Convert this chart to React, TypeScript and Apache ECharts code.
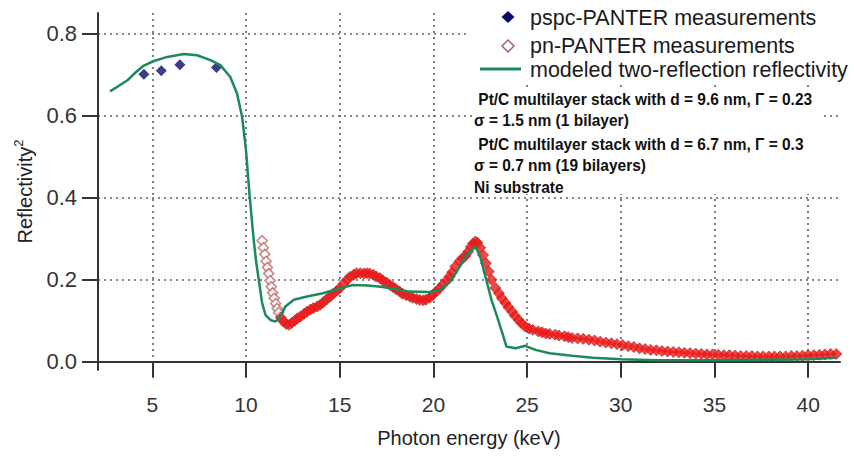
import React, { useEffect, useRef } from "react";
import * as echarts from "echarts";

// ---- data ----
const xTickValues = [5, 10, 15, 20, 25, 30, 35, 40];
const yTickValues = [0, 0.2, 0.4, 0.6, 0.8];

const pspcEnergy = [4.55, 5.48, 6.47, 8.42];
const pspcReflectivity = [0.701, 0.709, 0.724, 0.717];

const pnOpenEnergy = [10.86, 10.93, 11.0, 11.07, 11.14, 11.21, 11.28, 11.35, 11.42, 11.5, 11.58, 11.66, 11.74];
const pnOpenReflectivity = [0.295, 0.278, 0.262, 0.245, 0.23, 0.215, 0.198, 0.183, 0.168, 0.155, 0.142, 0.13, 0.12];

const pnEnergy = [
  11.85, 12.0, 12.15, 12.3, 12.45, 12.6, 12.75, 12.9, 13.1, 13.25, 13.43, 13.6, 13.8, 13.96, 14.15, 14.3, 14.5, 14.65, 14.85,
  15.0, 15.2, 15.4, 15.55, 15.75, 15.9, 16.1, 16.3, 16.45, 16.6, 16.8, 16.95, 17.15, 17.3, 17.5, 17.68, 17.85, 18.0, 18.2,
  18.35, 18.55, 18.74, 18.9, 19.1, 19.27, 19.45, 19.6, 19.8, 19.97, 20.15, 20.33, 20.5, 20.7, 20.87, 21.0, 21.17, 21.4,
  21.55, 21.7, 21.85, 22.0, 22.12, 22.24, 22.35, 22.5, 22.65, 22.8, 22.95, 23.1, 23.3, 23.5, 23.65, 23.85, 24.0, 24.2,
  24.35, 24.55, 24.7, 24.9, 25.1, 25.3, 25.6, 25.8, 26.0, 26.2, 26.5, 26.7, 27.0, 27.2, 27.4, 27.7, 28.0, 28.3, 28.6, 28.9,
  29.2, 29.5, 29.8, 30.1, 30.4, 30.7, 31.0, 31.3, 31.6, 31.9, 32.2, 32.5, 32.8, 33.1, 33.4, 33.7, 34.0, 34.3, 34.6, 34.9,
  35.2, 35.5, 35.8, 36.1, 36.4, 36.7, 37.0, 37.3, 37.6, 37.9, 38.2, 38.5, 38.8, 39.1, 39.4, 39.7, 40.0, 40.3, 40.6, 40.9,
  41.2, 41.5,
];
const pnReflectivity = [
  0.108, 0.098, 0.092, 0.09, 0.095, 0.1, 0.106, 0.11, 0.117, 0.122, 0.127, 0.131, 0.135, 0.139, 0.146, 0.152, 0.159, 0.166, 0.173,
  0.179, 0.19, 0.2, 0.207, 0.212, 0.216, 0.216, 0.215, 0.216, 0.215, 0.212, 0.208, 0.204, 0.198, 0.193, 0.187, 0.182, 0.177, 0.171,
  0.166, 0.162, 0.159, 0.156, 0.153, 0.151, 0.15, 0.151, 0.156, 0.163, 0.171, 0.179, 0.188, 0.198, 0.208, 0.218, 0.232, 0.245,
  0.252, 0.258, 0.268, 0.28, 0.288, 0.293, 0.29, 0.278, 0.26, 0.24, 0.22, 0.2, 0.18, 0.167, 0.155, 0.143, 0.133, 0.122,
  0.112, 0.102, 0.094, 0.086, 0.081, 0.078, 0.074, 0.072, 0.069, 0.068, 0.066, 0.064, 0.062, 0.06, 0.058, 0.057, 0.056, 0.054, 0.052, 0.049,
  0.047, 0.045, 0.043, 0.041, 0.038, 0.036, 0.033, 0.031, 0.029, 0.028, 0.026, 0.025, 0.024, 0.023, 0.022, 0.021, 0.02, 0.019, 0.018, 0.018,
  0.017, 0.016, 0.016, 0.015, 0.014, 0.014, 0.014, 0.013, 0.013, 0.013, 0.013, 0.013, 0.013, 0.014, 0.014, 0.015, 0.016, 0.016, 0.017, 0.018,
  0.019, 0.019,
];

const modelEnergy = [
  2.74, 3.2, 3.67, 4.1, 4.55, 5.08, 5.8, 6.68, 7.39, 8.1, 8.63, 9.16, 9.52, 9.79, 10.0, 10.2, 10.41, 10.55, 10.68, 10.86,
  11.04, 11.3, 11.57, 11.84, 12.1, 12.55, 13.26, 14.1, 15.0, 15.7, 16.5, 17.2, 17.7, 18.7, 19.8, 20.3, 20.9, 21.4, 21.8,
  22.24, 22.5, 22.87, 23.1, 23.4, 23.65, 23.9, 24.4, 24.9, 25.45, 26.2, 27.4, 28.5, 30.0, 32.0, 35.0, 38.0, 40.0, 41.5,
];
const modelReflectivity = [
  0.659, 0.672, 0.686, 0.705, 0.722, 0.733, 0.743, 0.75, 0.747, 0.735, 0.723, 0.694, 0.654, 0.597, 0.515, 0.4, 0.297, 0.24, 0.2, 0.143,
  0.114, 0.102, 0.098, 0.11, 0.135, 0.151, 0.159, 0.167, 0.179, 0.187, 0.186, 0.183, 0.179, 0.171, 0.17, 0.175, 0.195, 0.232, 0.262,
  0.281, 0.256, 0.191, 0.151, 0.11, 0.074, 0.037, 0.033, 0.039, 0.029, 0.021, 0.015, 0.01, 0.006, 0.004, 0.004, 0.005, 0.006, 0.01,
];

const legendLabels = ["pspc-PANTER measurements", "pn-PANTER measurements", "modeled two-reflection reflectivity"];
const noteLines = [
  " Pt/C multilayer stack with d = 9.6 nm, Γ = 0.23",
  "σ = 1.5 nm (1 bilayer)",
  " Pt/C multilayer stack with d = 6.7 nm, Γ = 0.3",
  "σ = 0.7 nm (19 bilayers)",
  "Ni substrate",
];

const zip = (xs: number[], ys: number[]) => xs.map((x, i) => [x, ys[i]]);

const FONT = "'Liberation Sans', Arial, sans-serif";
const GREEN = "#1b8a5a";
const NAVY = "#0b0b6e";
const GRID_COLOR = "#5e5e6e";
const AXIS_COLOR = "#333";

export default function App() {
  const ref = useRef<HTMLDivElement>(null);

  useEffect(() => {
    if (!ref.current) return;
    const chart = echarts.init(ref.current, undefined, { renderer: "svg" });

    const legendRows = [18, 46, 70];
    const noteRows = [99, 120, 144, 165, 187];

    chart.setOption({
      animation: false,
      backgroundColor: "#fff",
      textStyle: { fontFamily: FONT },
      grid: { left: 98, right: 14, top: 13, bottom: 87 },
      xAxis: {
        type: "value",
        min: 2.1,
        max: 41.7,
        name: "Photon energy (keV)",
        nameLocation: "middle",
        nameGap: 58,
        nameTextStyle: { fontSize: 20, color: "#222", fontFamily: FONT },
        axisLine: { show: true, lineStyle: { color: AXIS_COLOR, width: 2 } },
        axisTick: { show: true, length: 16, lineStyle: { color: AXIS_COLOR, width: 2 }, customValues: xTickValues },
        axisLabel: { fontSize: 21, color: "#333", margin: 24, customValues: xTickValues, fontFamily: FONT },
        splitLine: { show: true, lineStyle: { color: GRID_COLOR, type: [2, 4], width: 1.6 } },
      },
      yAxis: {
        type: "value",
        min: -0.02,
        max: 0.85,
        name: "Reflectivity{sup|2}",
        nameLocation: "middle",
        nameGap: 61,
        nameRotate: 90,
        nameTextStyle: {
          fontSize: 20,
          color: "#222",
          fontFamily: FONT,
          rich: {
            sup: { fontSize: 13, color: "#222", fontFamily: FONT, verticalAlign: "top", padding: [0, 0, 12, 0] },
          },
        },
        axisLine: { show: true, lineStyle: { color: AXIS_COLOR, width: 2 } },
        axisTick: { show: true, length: 16, lineStyle: { color: AXIS_COLOR, width: 2 }, customValues: yTickValues },
        axisLabel: {
          fontSize: 22,
          color: "#333",
          margin: 21,
          customValues: yTickValues,
          fontFamily: FONT,
          formatter: (v: number) => v.toFixed(1),
        },
        splitLine: { show: true, lineStyle: { color: GRID_COLOR, type: [2, 4], width: 1.6 } },
      },
      series: [
        {
          name: legendLabels[0],
          type: "scatter",
          data: zip(pspcEnergy, pspcReflectivity),
          symbol: "diamond",
          symbolSize: 11,
          itemStyle: { color: NAVY },
          z: 3,
        },
        {
          name: legendLabels[1],
          type: "scatter",
          data: zip(pnOpenEnergy, pnOpenReflectivity),
          symbol: "diamond",
          symbolSize: 10,
          itemStyle: { color: "#fff", borderColor: "#b86a6a", borderWidth: 1.6 },
          z: 3,
        },
        {
          name: legendLabels[1],
          type: "scatter",
          data: zip(pnEnergy, pnReflectivity),
          symbol: "diamond",
          symbolSize: 11,
          itemStyle: { color: "#f51414", borderColor: "#b83030", borderWidth: 1 },
          z: 3,
        },
        {
          name: legendLabels[2],
          type: "line",
          data: zip(modelEnergy, modelReflectivity),
          showSymbol: false,
          symbol: "none",
          lineStyle: { color: GREEN, width: 2.5 },
          z: 4,
        },
      ],
      graphic: [
        { type: "rect", z: 1, shape: { x: 470, y: 0, width: 384, height: 84 }, style: { fill: "#fff" } },
        { type: "rect", z: 1, shape: { x: 472, y: 90, width: 352, height: 104 }, style: { fill: "#fff" } },
        {
          type: "polygon",
          z: 10,
          shape: { points: [[508, legendRows[0] - 7], [514.5, legendRows[0] - 1], [508, legendRows[0] + 5], [501.5, legendRows[0] - 1]] },
          style: { fill: NAVY },
        },
        {
          type: "polygon",
          z: 10,
          shape: { points: [[508, legendRows[1] - 6], [514, legendRows[1]], [508, legendRows[1] + 6], [502, legendRows[1]]] },
          style: { fill: "#fff", stroke: "#a86060", lineWidth: 1.5 },
        },
        {
          type: "line",
          z: 10,
          shape: { x1: 480, y1: legendRows[2] - 1, x2: 521, y2: legendRows[2] - 1 },
          style: { stroke: GREEN, lineWidth: 3 },
        },
        ...legendLabels.map((t, i) => ({
          type: "text",
          z: 10,
          x: 530,
          y: legendRows[i],
          style: { text: t, fontSize: 21.5, fontFamily: FONT, fill: "#1a1a1a", verticalAlign: "middle", align: "left" },
        })),
        ...noteLines.map((t, i) => ({
          type: "text",
          z: 10,
          x: 474,
          y: noteRows[i],
          scaleY: 1.1,
          style: {
            text: t,
            fontSize: 15.5,
            fontWeight: "bold",
            fontFamily: FONT,
            fill: "#111",
            verticalAlign: "middle",
            align: "left",
          },
        })),
      ],
    });

    return () => chart.dispose();
  }, []);

  return (
    <div
      ref={ref}
      style={{ position: "fixed", left: 0, top: 0, width: 854, height: 457, background: "#fff" }}
    />
  );
}
